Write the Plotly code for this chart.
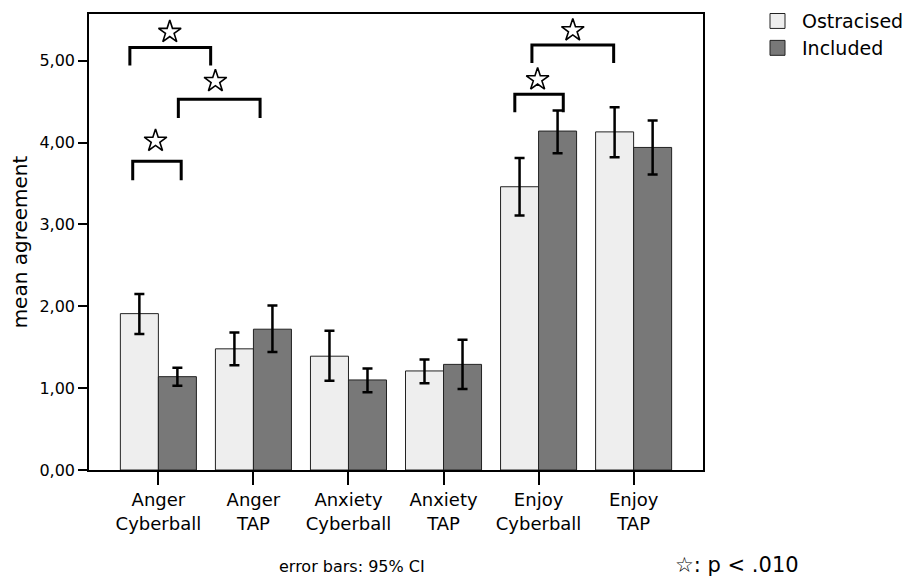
import plotly.graph_objects as go

categories = ["Anger<br>Cyberball", "Anger<br>TAP", "Anxiety<br>Cyberball",
              "Anxiety<br>TAP", "Enjoy<br>Cyberball", "Enjoy<br>TAP"]
series_names = ["Ostracised", "Included"]
series_colors = ["#eeeeee", "#787878"]
ostracised_mean = [1.91, 1.48, 1.39, 1.21, 3.46, 4.13]
ostracised_low = [1.66, 1.28, 1.09, 1.06, 3.11, 3.82]
ostracised_high = [2.15, 1.68, 1.70, 1.35, 3.81, 4.43]
included_mean = [1.14, 1.72, 1.10, 1.29, 4.14, 3.94]
included_low = [1.03, 1.44, 0.95, 0.99, 3.87, 3.61]
included_high = [1.25, 2.01, 1.24, 1.59, 4.39, 4.27]

# significance brackets (x in category units, y in data units)
bracket_x0 = [-0.30, 0.21, -0.27, 3.93, 3.75]
bracket_x1 = [0.55, 1.07, 0.24, 4.79, 4.26]
bracket_top = [5.16, 4.53, 3.77, 5.19, 4.59]
bracket_leg = [4.94, 4.30, 3.54, 4.97, 4.37]
star_x = [0.12, 0.60, -0.03, 4.36, 3.99]
star_y = [5.35, 4.75, 4.02, 5.37, 4.77]

FONT = "DejaVu Sans"
pos = list(range(len(categories)))

fig = go.Figure()
for name, color, mean, low, high in [
    (series_names[0], series_colors[0], ostracised_mean, ostracised_low, ostracised_high),
    (series_names[1], series_colors[1], included_mean, included_low, included_high),
]:
    fig.add_trace(go.Bar(
        x=pos, y=mean, name=name, showlegend=False,
        marker=dict(color=color, line=dict(color="#222222", width=1)),
        error_y=dict(type="data", symmetric=False,
                     array=[h - m for h, m in zip(high, mean)],
                     arrayminus=[m - l for m, l in zip(mean, low)],
                     color="black", thickness=2.5, width=5),
    ))

for x0, x1, yt, yl in zip(bracket_x0, bracket_x1, bracket_top, bracket_leg):
    fig.add_shape(type="path", xref="x", yref="y",
                  path=f"M {x0},{yl} L {x0},{yt} L {x1},{yt} L {x1},{yl}",
                  line=dict(color="black", width=3))

fig.add_trace(go.Scatter(
    x=star_x, y=star_y, mode="markers", showlegend=False, hoverinfo="skip",
    marker=dict(symbol="star-open", size=17, color="black", line=dict(width=1.6, color="black")),
))

# manual legend (paper coords relative to plot area: left 89px, width 614px; top 12px, height 458px)
W, H, L, T = 614, 458, 89, 12
def px_x(p):
    return (p - L) / W
def px_y(p):
    return 1 - (p - T) / H

annotations = []
for i, (name, color) in enumerate(zip(series_names, series_colors)):
    cy = 19 + 27 * i
    fig.add_shape(type="rect", xref="paper", yref="paper",
                  x0=px_x(770), x1=px_x(785), y0=px_y(cy - 7.5), y1=px_y(cy + 7.5),
                  fillcolor=color, line=dict(color="#222222", width=1))
    annotations.append(dict(text=name, xref="paper", yref="paper",
                            x=px_x(800), y=px_y(cy), xanchor="left", yanchor="middle",
                            showarrow=False, font=dict(family=FONT, size=19, color="black")))

annotations += [
    dict(text="error bars: 95% CI", xref="paper", yref="paper",
         x=px_x(352), y=px_y(567), xanchor="center", yanchor="middle",
         showarrow=False, font=dict(family=FONT, size=16, color="black")),
    dict(text="☆: p < .010", xref="paper", yref="paper",
         x=px_x(673), y=px_y(565), xanchor="left", yanchor="middle",
         showarrow=False, font=dict(family=FONT, size=21, color="black")),
]

fig.update_layout(
    width=906, height=581,
    margin=dict(l=89, r=203, t=12, b=111),
    paper_bgcolor="white", plot_bgcolor="white",
    barmode="group", bargap=0.2, bargroupgap=0,
    separators=",.",
    font=dict(family=FONT, color="black"),
    showlegend=False,
    xaxis=dict(range=[-0.73, 5.73], tickvals=pos, ticktext=categories,
               showline=True, mirror=True, linecolor="black", linewidth=1.5,
               ticks="outside", ticklen=13, tickwidth=1.5, tickcolor="black",
               tickfont=dict(family=FONT, size=18, color="black"),
               showgrid=False, zeroline=False),
    yaxis=dict(range=[0, 5.57], tickvals=[0, 1, 2, 3, 4, 5], tickformat=".2f",
               showline=True, mirror=True, linecolor="black", linewidth=1.5,
               ticks="outside", ticklen=9, tickwidth=1.5, tickcolor="black",
               tickfont=dict(family=FONT, size=16, color="black"),
               showgrid=False, zeroline=False,
               title=dict(text="mean agreement", font=dict(family=FONT, size=20, color="black"), standoff=6)),
    annotations=annotations,
)

fig.write_html("out.html")
